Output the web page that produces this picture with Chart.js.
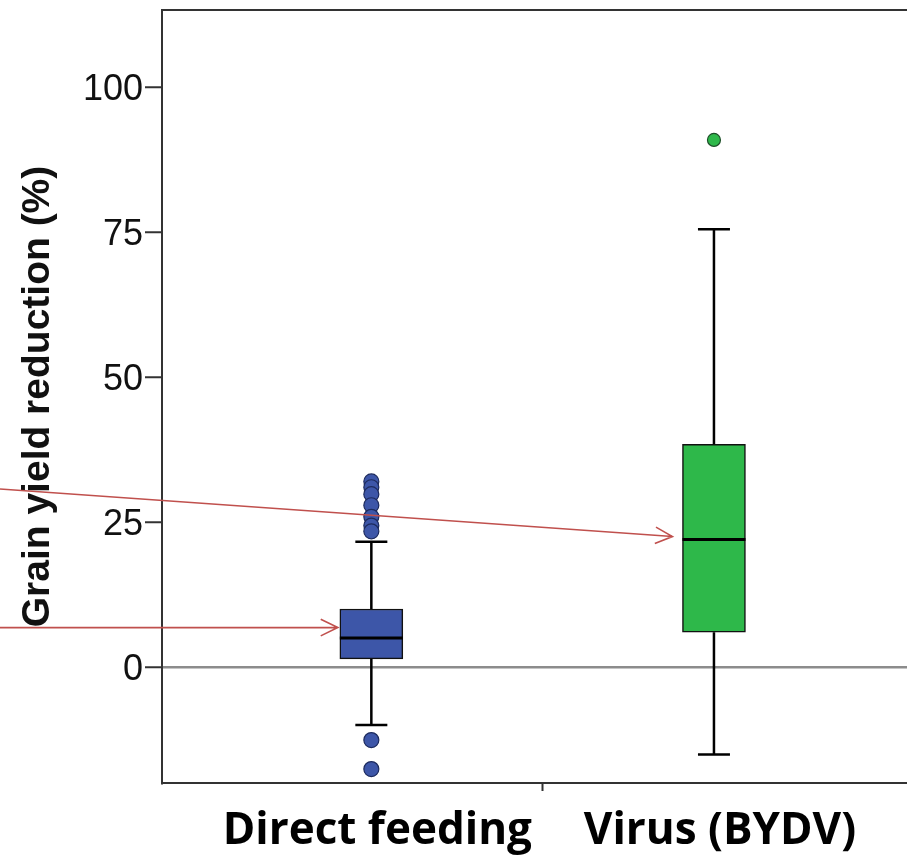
<!DOCTYPE html>
<html>
<head>
<meta charset="utf-8">
<script src="https://cdn.jsdelivr.net/npm/chart.js@4.4.1/dist/chart.umd.min.js"></script>
<style>
    html, body { margin: 0; padding: 0; background: #fff; overflow: hidden; }
    #wrap { width: 932px; height: 855px; }
</style>
</head>
<body>
<div id="wrap"><canvas id="chart"></canvas></div>
<script>
// Data
const categories = ['Direct feeding', 'Virus (BYDV)'];
const xPos = [1, 2];
const q1 = [1.4, 6.0];
const q3 = [10.0, 38.4];
const medians = [5.0, 22.0];
const whiskerLow = [-10.0, -15.1];
const whiskerHigh = [21.6, 75.5];
const outliersDirect = [32.0, 31.0, 29.8, 27.9, 25.9, 24.4, 23.4, -12.6, -17.6];
const outliersVirus = [90.9];
const yTicks = [0, 25, 50, 75, 100];

// red annotation arrows: start value at left edge -> target box
const arrowFrom = [30.7, 6.8];
const arrowTo = [22.5, 6.8];
const arrowBox = [1, 0];
const arrowGap = [10, 2];

const boxColors = ['#3d56a8', '#2eb84a'];
const boxWidth = 63;

// whiskers, caps, medians + frame + arrows
const boxPlugin = {
    id: 'boxExtras',
    afterDatasetsDraw(chart) {
        const ctx = chart.ctx;
        const x = chart.scales.x;
        const y = chart.scales.y;
        ctx.save();
        ctx.strokeStyle = '#000';
        categories.forEach((c, i) => {
            const px = x.getPixelForValue(xPos[i]);
            ctx.lineWidth = 2.5;
            ctx.beginPath();
            ctx.moveTo(px, y.getPixelForValue(q3[i]));
            ctx.lineTo(px, y.getPixelForValue(whiskerHigh[i]));
            ctx.moveTo(px, y.getPixelForValue(q1[i]));
            ctx.lineTo(px, y.getPixelForValue(whiskerLow[i]));
            ctx.stroke();
            ctx.beginPath();
            ctx.moveTo(px - 16, y.getPixelForValue(whiskerHigh[i]));
            ctx.lineTo(px + 16, y.getPixelForValue(whiskerHigh[i]));
            ctx.moveTo(px - 16, y.getPixelForValue(whiskerLow[i]));
            ctx.lineTo(px + 16, y.getPixelForValue(whiskerLow[i]));
            ctx.stroke();
            ctx.lineWidth = 3;
            ctx.beginPath();
            ctx.moveTo(px - boxWidth / 2, y.getPixelForValue(medians[i]));
            ctx.lineTo(px + boxWidth / 2, y.getPixelForValue(medians[i]));
            ctx.stroke();
        });
        ctx.restore();
    },
    afterDraw(chart) {
        const ctx = chart.ctx;
        const a = chart.chartArea;
        const x = chart.scales.x;
        const y = chart.scales.y;
        ctx.save();
        ctx.strokeStyle = '#333';
        ctx.lineWidth = 2;
        ctx.strokeRect(a.left, a.top, a.right - a.left, a.bottom - a.top);

        ctx.strokeStyle = '#c0504d';
        ctx.lineWidth = 1.6;
        arrowFrom.forEach((v, i) => {
            const x0 = 0, y0 = y.getPixelForValue(v);
            const x1 = x.getPixelForValue(xPos[arrowBox[i]]) - boxWidth / 2 - arrowGap[i];
            const y1 = y.getPixelForValue(arrowTo[i]);
            const ang = Math.atan2(y1 - y0, x1 - x0);
            ctx.beginPath();
            ctx.moveTo(x0, y0);
            ctx.lineTo(x1, y1);
            ctx.moveTo(x1 - 19 * Math.cos(ang - 0.45), y1 - 19 * Math.sin(ang - 0.45));
            ctx.lineTo(x1, y1);
            ctx.lineTo(x1 - 19 * Math.cos(ang + 0.45), y1 - 19 * Math.sin(ang + 0.45));
            ctx.stroke();
        });
        ctx.restore();
    }
};

new Chart(document.getElementById('chart'), {
    type: 'bar',
    data: {
        datasets: [
            {
                data: categories.map((c, i) => ({ x: xPos[i], y: [q1[i], q3[i]] })),
                backgroundColor: boxColors,
                borderColor: '#111',
                borderWidth: 1.5,
                borderSkipped: false,
                barThickness: boxWidth
            },
            {
                type: 'scatter',
                data: outliersDirect.map(v => ({ x: xPos[0], y: v })),
                backgroundColor: '#3d56a8',
                borderColor: '#1d2b5e',
                borderWidth: 1.2,
                pointRadius: 7.5
            },
            {
                type: 'scatter',
                data: outliersVirus.map(v => ({ x: xPos[1], y: v })),
                backgroundColor: '#2eb84a',
                borderColor: '#1f4f2a',
                borderWidth: 1.2,
                pointRadius: 6.5
            }
        ]
    },
    options: {
        responsive: true,
        maintainAspectRatio: false,
        animation: false,
        layout: { padding: { top: 10, right: 3, left: 0, bottom: 0 } },
        plugins: {
            legend: { display: false },
            tooltip: { enabled: false }
        },
        scales: {
            x: {
                type: 'linear',
                position: 'bottom',
                min: 0.389,
                max: 2.611,
                offset: false,
                weight: 0,
                afterBuildTicks: axis => { axis.ticks = [{ value: 1.5 }]; },
                afterFit: axis => { axis.height = 8; axis.paddingLeft = 0; axis.paddingRight = 0; },
                ticks: { display: false },
                grid: { offset: false, drawOnChartArea: false, tickLength: 8, tickColor: '#333', tickWidth: 2 },
                border: { color: '#333', width: 2 }
            },
            xl: {
                type: 'linear',
                position: 'bottom',
                min: 0.389,
                max: 2.611,
                offset: false,
                weight: 1,
                afterBuildTicks: axis => { axis.ticks = xPos.map(v => ({ value: v })); },
                afterFit: axis => { axis.height = 64; axis.paddingLeft = 0; axis.paddingRight = 0; },
                ticks: {
                    autoSkip: false,
                    maxRotation: 0,
                    padding: 14,
                    labelOffset: 6,
                    color: '#000',
                    font: { family: '"Open Sans", "Liberation Sans", sans-serif', size: 44, weight: 'bold' },
                    callback: v => categories[xPos.indexOf(v)]
                },
                grid: { display: false, offset: false, drawTicks: false },
                border: { display: false }
            },
            y: {
                type: 'linear',
                min: -20,
                max: 113.3,
                afterBuildTicks: axis => { axis.ticks = yTicks.map(v => ({ value: v })); },
                afterFit: axis => { axis.width = 162; axis.paddingTop = 0; axis.paddingBottom = 0; },
                ticks: {
                    padding: 2,
                    labelOffset: 3,
                    color: '#111',
                    font: { family: '"Liberation Sans", Arial, sans-serif', size: 36 }
                },
                grid: {
                    color: c => c.tick && c.tick.value === 0 ? '#8c8c8c' : 'rgba(0,0,0,0)',
                    lineWidth: 2.5,
                    tickLength: 17,
                    tickColor: '#333',
                    tickWidth: 2
                },
                border: { color: '#333', width: 2 },
                title: {
                    display: true,
                    text: 'Grain yield reduction (%)',
                    color: '#111',
                    padding: { top: 15, bottom: 0 },
                    font: { family: '"Liberation Sans", Arial, sans-serif', size: 39, weight: 'bold' }
                }
            }
        }
    },
    plugins: [boxPlugin]
});
</script>
</body>
</html>
